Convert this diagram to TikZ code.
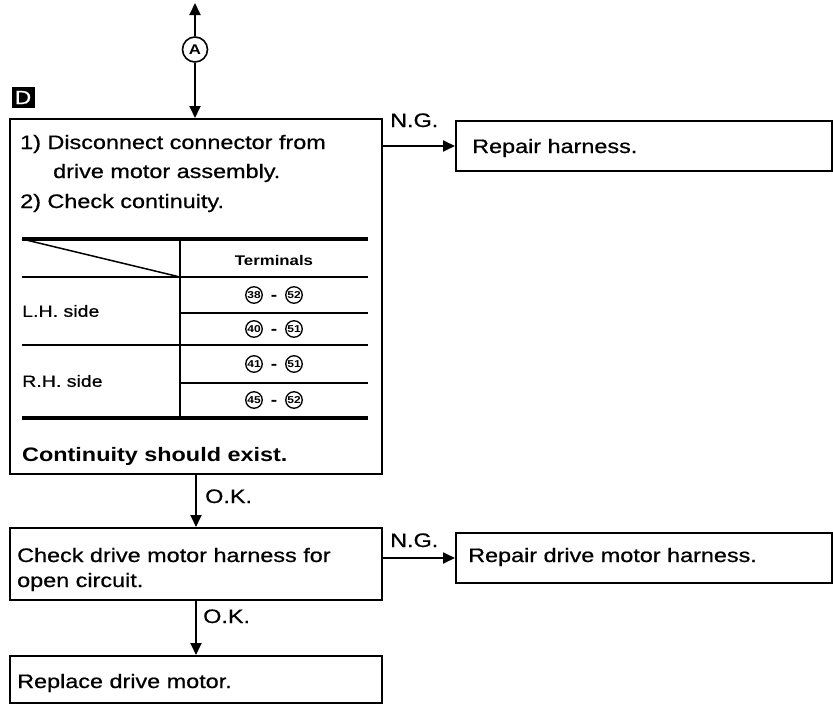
\documentclass[tikz,border=0pt]{standalone}
\usepackage{fontspec}
\setmainfont{Liberation Sans}[FakeStretch=1.2, UprightFeatures={FakeBold=0.7}]
\usetikzlibrary{arrows.meta}
\begin{document}
\begin{tikzpicture}[x=1pt,y=-1pt,
  box/.style={draw, line width=2pt, inner sep=0pt, anchor=north west},
  conn/.style={line width=1.8pt, -{Triangle[length=12pt,width=11pt]}},
  txt/.style={anchor=base west, inner sep=0pt, font=\fontsize{19.5}{19.5}\selectfont},
  btxt/.style={anchor=base west, inner sep=0pt, font=\fontsize{19.5}{19.5}\selectfont\bfseries},
  ttxt/.style={anchor=west, inner sep=0pt, font=\fontsize{16.3}{16.3}\selectfont},
  cnum/.style={circle, draw, line width=1.3pt, minimum size=16.5pt, inner sep=0pt, font=\fontsize{10}{10}\selectfont\bfseries},
  dsh/.style={inner sep=0pt, anchor=base, font=\fontsize{16}{16}\selectfont\bfseries},
  thin/.style={line width=1.5pt},
  thick/.style={line width=3.2pt}]
\useasboundingbox (0,0) rectangle (833,704);

% boxes
\node[box, minimum width=372pt, minimum height=355pt] (b1) at (9,118) {};
\node[box, minimum width=372pt, minimum height=72pt] (b2) at (9,527) {};
\node[box, minimum width=372pt, minimum height=47pt] (b3) at (9,655) {};
\node[box, minimum width=376pt, minimum height=50pt] (r1) at (455,120) {};
\node[box, minimum width=376pt, minimum height=50pt] (r2) at (455,532) {};

% D tag and A circle
\node[fill=black, text=white, minimum width=23pt, minimum height=21pt, inner sep=0pt,
      font=\fontsize{19}{19}\selectfont] (D) at (23,97.5) {D};
\node[circle, draw, line width=1.6pt, minimum size=25pt, inner sep=0pt,
      font=\fontsize{14}{14}\selectfont\bfseries] (A) at (195,49.5) {A};
\coordinate (top) at (195,3);

% connectors
\draw[conn] (A) -- (top);
\draw[conn] (A) -- (A |- b1.north);
\draw[conn] (b1.south) -- (b2.north);
\draw[conn] (b2.south) -- (b3.north);
\draw[conn] (r1.west -| b1.east) -- (r1.west);
\draw[conn] (r2.west -| b2.east) -- (r2.west);

% connector labels
\node[txt] (ng1) at (390,127) {N.G.};
\node[txt] (ng2) at (390,547) {N.G.};
\node[txt] (ok1) at (205,503) {O.K.};
\node[txt] (ok2) at (203,623) {O.K.};

% box 1 text
\node[txt] (l1) at (20,149) {1) Disconnect connector from};
\node[txt] (l2) at (53,178) {drive motor assembly.};
\node[txt] (l3) at (20,208) {2) Check continuity.};

% table
\draw[thick] (22,239) -- (368,239);
\draw[thin] (22,277) -- (368,277);
\draw[thin] (22,239) -- (180,277);
\draw[thin] (180,239) -- (180,418);
\draw[thin] (180,313) -- (368,313);
\draw[thin] (22,345) -- (368,345);
\draw[thin] (180,383) -- (368,383);
\draw[thick] (22,418) -- (368,418);
\node[inner sep=0pt, font=\fontsize{14}{14}\selectfont\bfseries] (term) at (274,260) {Terminals};
\node[ttxt] (lh) at (22,311) {L.H. side};
\node[ttxt] (rh) at (22,381) {R.H. side};

\node[cnum] (p1a) at (254,295) {38};
\node[dsh] (p1d) at (274,300) {-};
\node[cnum] (p1b) at (294,295) {52};
\node[cnum] (p2a) at (254,329) {40};
\node[dsh] (p2d) at (274,334) {-};
\node[cnum] (p2b) at (294,329) {51};
\node[cnum] (p3a) at (254,364) {41};
\node[dsh] (p3d) at (274,369) {-};
\node[cnum] (p3b) at (294,364) {51};
\node[cnum] (p4a) at (254,400) {45};
\node[dsh] (p4d) at (274,405) {-};
\node[cnum] (p4b) at (294,400) {52};

\node[btxt] (cont) at (22,461) {Continuity should exist.};

% other box texts
\node[txt] (c1) at (17,562) {Check drive motor harness for};
\node[txt] (c2) at (17,587) {open circuit.};
\node[txt] (rep) at (17,688) {Replace drive motor.};
\node[txt] (rh1) at (472,153) {Repair harness.};
\node[txt] (rh2) at (468,562) {Repair drive motor harness.};
\end{tikzpicture}
\end{document}
